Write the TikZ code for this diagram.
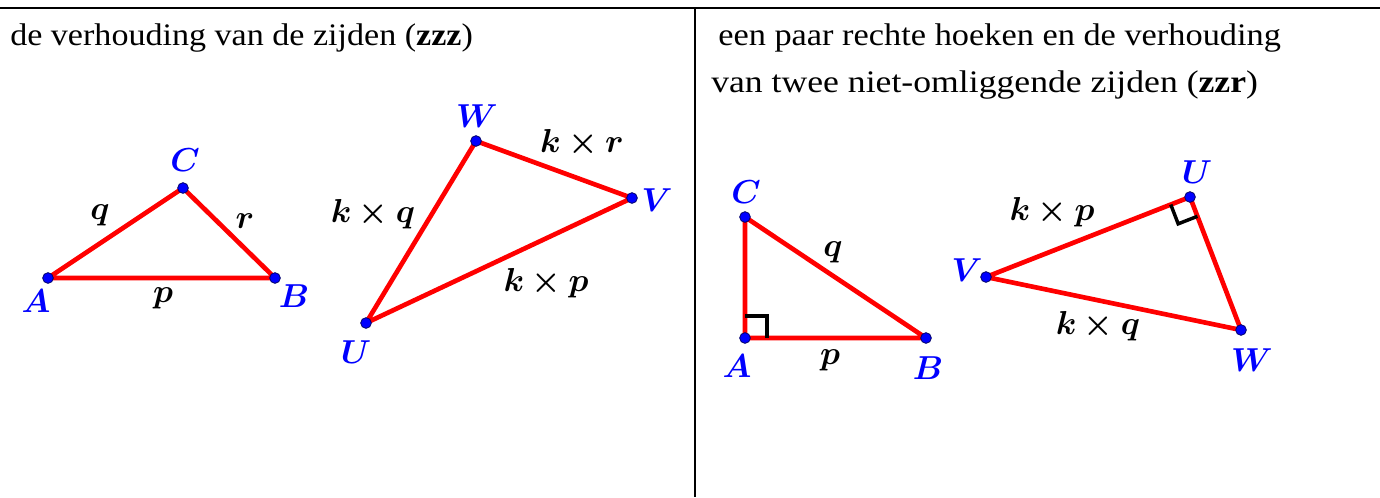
\documentclass[tikz,border=0pt]{standalone}
\usepackage{fontspec}
\usepackage{amsmath}
\usepackage{bm}
\setmainfont{Liberation Serif}
\usetikzlibrary{calc}
\tikzset{
  side/.style={draw=red, line width=3.5pt, line join=round},
  vdot/.style={circle, fill=blue, draw=blue!40!black, line width=0.6pt, inner sep=0pt, minimum size=8pt},
  vlab/.style={text=blue, inner sep=0pt, font=\fontsize{24}{28}\selectfont},
  slab/.style={inner sep=0pt, font=\fontsize{23}{27}\selectfont},
  ramark/.style={draw=black, line width=2.6pt},
  frame/.style={draw=black, line width=2pt},
  ttl/.style={anchor=base west, inner sep=0pt, font=\fontsize{23.5}{27}\selectfont}
}
\begin{document}
\begin{tikzpicture}[x=0.75pt,y=-0.75pt]
\useasboundingbox (0,0) rectangle (1380,497);
% frame
\coordinate (TL) at (0,8);
\coordinate (TR) at (1380,8);
\coordinate (DT) at (695,8);
\coordinate (DB) at (695,497);
\draw[frame] (TL) -- (TR);
\draw[frame] (DT) -- (DB);
% titles
\node[ttl] (t1) at (10,45) {\resizebox{347pt}{\height}{de verhouding van de zijden (\textbf{zzz})}};
\node[ttl] (t2) at (718,45) {\resizebox{422pt}{\height}{een paar rechte hoeken en de verhouding}};
\node[ttl] (t3) at (711,92) {\resizebox{410pt}{\height}{van twee niet-omliggende zijden (\textbf{zzr})}};
% ---- left panel, triangle ABC
\coordinate (A1) at (48,278);
\coordinate (B1) at (275,278);
\coordinate (C1) at (183,188);
\draw[side] (A1) -- (B1) -- (C1) -- cycle;
\node[vdot] (dA1) at (A1) {};
\node[vdot] (dB1) at (B1) {};
\node[vdot] (dC1) at (C1) {};
\node[vlab] (lA1) at (36,301) {$\boldsymbol{A}$};
\node[vlab] (lB1) at (294,296) {$\boldsymbol{B}$};
\node[vlab] (lC1) at (185,160) {$\boldsymbol{C}$};
\node[slab] (sq1) at (100,215) {$\boldsymbol{q}$};
\node[slab] (sr1) at (245,221) {$\boldsymbol{r}$};
\node[slab] (sp1) at (163,298) {$\boldsymbol{p}$};
% ---- left panel, triangle UVW
\coordinate (U1) at (366,323);
\coordinate (V1) at (632,198);
\coordinate (W1) at (476,141);
\draw[side] (U1) -- (V1) -- (W1) -- cycle;
\node[vdot] (dU1) at (U1) {};
\node[vdot] (dV1) at (V1) {};
\node[vdot] (dW1) at (W1) {};
\node[vlab] (lU1) at (356,352) {$\boldsymbol{U}$};
\node[vlab] (lV1) at (657,200) {$\boldsymbol{V}$};
\node[vlab] (lW1) at (477,116) {$\boldsymbol{W}$};
\node[slab] (skr1) at (582,143) {$\boldsymbol{k\times r}$};
\node[slab] (skq1) at (373,214) {$\boldsymbol{k\times q}$};
\node[slab] (skp1) at (546,283) {$\boldsymbol{k\times p}$};
% ---- right panel, triangle ABC
\coordinate (A2) at (745,338);
\coordinate (B2) at (926,338);
\coordinate (C2) at (745,217);
\draw[side] (A2) -- (B2) -- (C2) -- cycle;
\coordinate (a2b) at ($(A2)!16.5pt!(B2)$);
\coordinate (a2c) at ($(A2)!16.5pt!(C2)$);
\coordinate (a2m) at ($(a2b)+(a2c)-(A2)$);
\draw[ramark] (a2b) -- (a2m) -- (a2c);
\node[vdot] (dA2) at (A2) {};
\node[vdot] (dB2) at (B2) {};
\node[vdot] (dC2) at (C2) {};
\node[vlab] (lA2) at (737,366) {$\boldsymbol{A}$};
\node[vlab] (lB2) at (928,368) {$\boldsymbol{B}$};
\node[vlab] (lC2) at (746,192) {$\boldsymbol{C}$};
\node[slab] (sq2) at (833,252) {$\boldsymbol{q}$};
\node[slab] (sp2) at (830,360) {$\boldsymbol{p}$};
% ---- right panel, triangle UVW
\coordinate (U2) at (1190,197);
\coordinate (V2) at (986,277);
\coordinate (W2) at (1241,330);
\draw[side] (U2) -- (V2) -- (W2) -- cycle;
\coordinate (u2v) at ($(U2)!15.5pt!(V2)$);
\coordinate (u2w) at ($(U2)!15.5pt!(W2)$);
\coordinate (u2m) at ($(u2v)+(u2w)-(U2)$);
\draw[ramark] (u2v) -- (u2m) -- (u2w);
\node[vdot] (dU2) at (U2) {};
\node[vdot] (dV2) at (V2) {};
\node[vdot] (dW2) at (W2) {};
\node[vlab] (lU2) at (1197,172) {$\boldsymbol{U}$};
\node[vlab] (lV2) at (967,270) {$\boldsymbol{V}$};
\node[vlab] (lW2) at (1252,360) {$\boldsymbol{W}$};
\node[slab] (skp2) at (1052,212) {$\boldsymbol{k\times p}$};
\node[slab] (skq2) at (1098,326) {$\boldsymbol{k\times q}$};
\end{tikzpicture}
\end{document}
